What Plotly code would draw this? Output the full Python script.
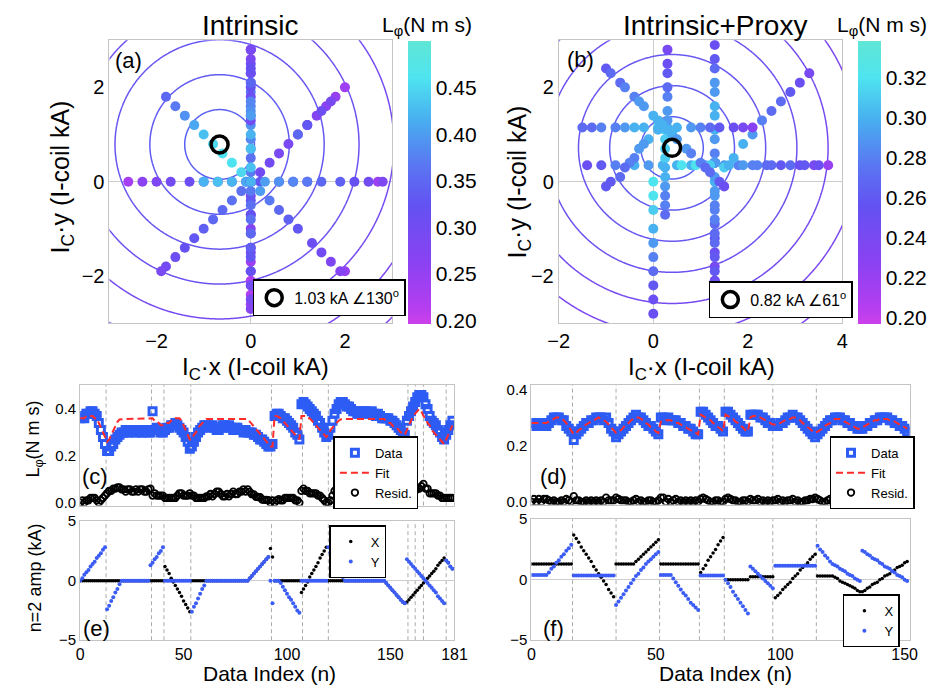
import numpy as np
import plotly.graph_objects as go

W, H = 947, 696
FONT = "Liberation Sans, Arial, Helvetica, sans-serif"

# ---------------- Intrinsic scan (181 points) ----------------
# n=2 I-coil amplitudes (kA), cosine (X) and sine (Y) components
coil_x_intr = [
    0, 0, 0, 0, 0, 0, 0, 0, 0, 0, 0, 0, 0,
    0, 0, 0, 0, 0, 0, 0, 0,
    0, 0, 0, 0, 0, 0, 0, 0, 0, 0, 0, 0, 0,
    0, 0, 0, 0, 0, 0, 0,
    1.2, 0.9, 0.6, 0.2, -0.1, -0.4, -0.7, -1.0, -1.3, -1.7, -2.0, -2.3, -2.6,
    0, 0, 0, 0, 0, 0, 0, 0,
    0, 0, 0, 0, 0, 0, 0, 0, 0, 0, 0, 0, 0, 0, 0, 0, 0, 0, 0, 0,
    0.2, 0.4, 0.6, 0.8, 1.0, 1.2, 1.4, 1.6, 1.8, 2.0,
    2.7, 2.0, 0, 0, 0,
    0, 0, 0, 0, 0, 0, 0, 0, 0, 0,
    -1.0, -0.7, -0.4, -0.1, 0.3, 0.6, 0.9, 1.2, 1.5, 1.9, 2.2, 2.5, 2.8,
    0, 0, 0, 0, 0, 0, 0, 0,
    0, 0, 0, 0, 0, 0, 0, 0, 0, 0, 0, 0, 0, 0, 0, 0, 0, 0, 0, 0,
    -0.2, -0.4, -0.6, -0.8, -1.0, -1.2, -1.4, -1.6, -1.8, -1.9,
    -1.8, -1.6, -1.4, -1.2, -1.0, -0.8, -0.6, -0.4, -0.2, 0.0, 0.2, 0.4, 0.6, 0.8, 1.0, 1.3, 1.5, 1.7, 1.9,
    1.7, 1.5, 1.2, 1.0,
]
coil_y_intr = [
    0.0, 0.2, 0.5, 0.7, 0.9, 1.2, 1.4, 1.6, 1.9, 2.1, 2.3, 2.6, 2.8,
    -2.4, -2.1, -1.7, -1.4, -1.0, -0.7, -0.3, 0.0,
    0, 0, 0, 0, 0, 0, 0, 0, 0, 0, 0, 0, 0,
    1.3, 1.5, 1.8, 2.0, 2.3, 2.5, 2.8,
    0, 0, 0, 0, 0, 0, 0, 0, 0, 0, 0, 0, 0,
    -2.6, -2.2, -1.9, -1.5, -1.1, -0.7, -0.4, 0.0,
    0, 0, 0, 0, 0, 0, 0, 0, 0, 0, 0, 0, 0, 0, 0, 0, 0, 0, 0, 0,
    0.2, 0.4, 0.6, 0.8, 1.0, 1.2, 1.4, 1.6, 1.8, 2.0,
    0.0, -1.9, 0, 0, 0,
    -0.2, -0.5, -0.8, -1.1, -1.4, -1.6, -1.9, -2.2, -2.5, -2.7,
    0, 0, 0, 0, 0, 0, 0, 0, 0, 0, 0, 0, 0,
    2.8, 2.4, 2.1, 1.7, 1.4, 1.0, 0.7, 0.3,
    0, 0, 0, 0, 0, 0, 0, 0, 0, 0, 0, 0, 0, 0, 0, 0, 0, 0, 0, 0,
    -0.2, -0.4, -0.6, -0.8, -1.0, -1.2, -1.4, -1.6, -1.8, -1.9,
    1.8, 1.6, 1.4, 1.2, 1.0, 0.8, 0.6, 0.4, 0.2, 0.0, -0.2, -0.4, -0.6, -0.8, -1.0, -1.3, -1.5, -1.7, -1.9,
    1.7, 1.5, 1.2, 1.0,
]
# measured locked-mode torque L_phi (N m s)
torque_intr = [
    0.36, 0.37, 0.36, 0.38, 0.38, 0.39, 0.39, 0.38, 0.37, 0.34, 0.31, 0.28, 0.25,
    0.22, 0.22, 0.24, 0.25, 0.27, 0.28, 0.29, 0.30,
    0.30, 0.31, 0.30, 0.30, 0.31, 0.31, 0.30, 0.31, 0.30, 0.30, 0.31, 0.31, 0.30,
    0.30, 0.39, 0.31, 0.32, 0.31, 0.30, 0.30,
    0.31, 0.32, 0.32, 0.33, 0.33, 0.34, 0.33, 0.32, 0.31, 0.30, 0.28, 0.26, 0.23,
    0.24, 0.26, 0.28, 0.30, 0.31, 0.32, 0.33, 0.33,
    0.33, 0.32, 0.33, 0.32, 0.31, 0.31, 0.32, 0.33, 0.33, 0.32, 0.33, 0.32, 0.31, 0.32, 0.32, 0.31, 0.31, 0.30, 0.31, 0.30,
    0.30, 0.30, 0.29, 0.29, 0.28, 0.27, 0.27, 0.26, 0.25, 0.24,
    0.24, 0.25, 0.37, 0.38, 0.38,
    0.37, 0.36, 0.36, 0.35, 0.34, 0.33, 0.32, 0.30, 0.29, 0.27,
    0.42, 0.43, 0.42, 0.41, 0.40, 0.39, 0.38, 0.37, 0.35, 0.34, 0.32, 0.30, 0.28,
    0.29, 0.32, 0.35, 0.38, 0.40, 0.42, 0.43, 0.43,
    0.42, 0.41, 0.41, 0.40, 0.39, 0.39, 0.38, 0.38, 0.39, 0.39, 0.39, 0.38, 0.38, 0.39, 0.38, 0.37, 0.38, 0.37, 0.36, 0.36,
    0.36, 0.36, 0.35, 0.35, 0.34, 0.33, 0.32, 0.31, 0.30, 0.29,
    0.35, 0.37, 0.39, 0.41, 0.43, 0.45, 0.46, 0.46, 0.45, 0.42, 0.40, 0.37, 0.35, 0.34, 0.33, 0.31, 0.30, 0.28, 0.27,
    0.29, 0.31, 0.33, 0.35,
]
fit_intr = [
    0.36, 0.36, 0.36, 0.37, 0.37, 0.37, 0.37, 0.36, 0.36, 0.34, 0.32, 0.30, 0.28,
    0.26, 0.27, 0.29, 0.31, 0.33, 0.345, 0.355, 0.357,
    0.357, 0.357, 0.357, 0.357, 0.357, 0.357, 0.357, 0.357, 0.357, 0.357, 0.357, 0.357, 0.357,
    0.36, 0.36, 0.35, 0.35, 0.34, 0.33, 0.33,
    0.33, 0.34, 0.34, 0.35, 0.35, 0.36, 0.36, 0.36, 0.35, 0.33, 0.31, 0.29, 0.27,
    0.27, 0.29, 0.30, 0.32, 0.33, 0.34, 0.35, 0.357,
    0.357, 0.357, 0.357, 0.357, 0.357, 0.357, 0.357, 0.357, 0.357, 0.357,
    0.357, 0.357, 0.357, 0.357, 0.357, 0.357, 0.357, 0.357, 0.357, 0.357,
    0.346, 0.336, 0.325, 0.315, 0.304, 0.293, 0.283, 0.272, 0.262, 0.251,
    0.24, 0.24, 0.37, 0.37, 0.365,
    0.36, 0.35, 0.34, 0.33, 0.32, 0.31, 0.30, 0.29, 0.28, 0.27,
    0.37, 0.37, 0.37, 0.36, 0.36, 0.35, 0.34, 0.33, 0.32, 0.31, 0.30, 0.29, 0.28,
    0.29, 0.31, 0.32, 0.33, 0.34, 0.35, 0.355, 0.357,
    0.357, 0.357, 0.357, 0.357, 0.357, 0.357, 0.357, 0.357, 0.357, 0.357,
    0.357, 0.357, 0.357, 0.357, 0.357, 0.357, 0.357, 0.357, 0.357, 0.357,
    0.35, 0.34, 0.34, 0.33, 0.32, 0.32, 0.31, 0.30, 0.30, 0.29,
    0.31, 0.33, 0.35, 0.37, 0.38, 0.39, 0.40, 0.39, 0.37, 0.36, 0.34, 0.33, 0.31, 0.30, 0.29, 0.28, 0.27, 0.26, 0.25,
    0.27, 0.29, 0.31, 0.33,
]
breaks_intr = [12.5, 34.5, 40.5, 53.5, 92.5, 107.5, 120, 158.5, 162, 166, 177]

# ---------------- Intrinsic+Proxy scan (152 points) ----------------
coil_x_prox = [
    1.3, 1.3, 1.3, 1.3, 1.3, 1.3, 1.3, 1.3, 1.3, 1.3, 1.3, 1.3, 1.3, 1.3, 1.3, 1.3, 1.3,
    3.7, 3.4, 3.1, 2.7, 2.4, 2.1, 1.8, 1.5, 1.1, 0.8, 0.5, 0.2, -0.1, -0.4, -0.8, -1.1, -1.4,
    1.3, 1.3, 1.3, 1.3, 1.3, 1.3, 1.3, 1.3,
    1.5, 1.7, 1.9, 2.1, 2.3, 2.5, 2.7, 2.9, 3.1, 3.3,
    1.3, 1.3, 1.3, 1.3, 1.3, 1.3, 1.3, 1.3, 1.3, 1.3, 1.3, 1.3, 1.3, 1.3, 1.3, 1.3,
    0.6, 0.9, 1.2, 1.6, 1.9, 2.2, 2.5, 2.9, 3.2, 3.5,
    0.0, 0.0, 0.0, 0.0, 0.0, 0.0, 0.0, 0.0, 0.0, 0.0,
    0.25, 0.25, 0.25, 0.25, 0.25, 0.25, 0.25, 0.25, 0.25, 0.25,
    -1.5, -1.3, -1.1, -0.8, -0.6, -0.4, -0.2, 0.1, 0.3, 0.5, 0.8, 1.0, 1.2, 1.4, 1.7, 1.9, 2.1,
    0.3, 0.3, 0.3, 0.3, 0.3, 0.3, 0.3,
    0.2, 0.1, -0.1, -0.2, -0.3, -0.4, -0.5, -0.6, -0.7, -0.9, -1.0,
    -1.0, -0.9, -0.7, -0.6, -0.4, -0.3, -0.2, 0.0, 0.1, 0.3, 0.4, 0.5, 0.7, 0.8, 1.0, 1.1, 1.2, 1.4, 1.5,
]
coil_y_prox = [
    0.4, 0.4, 0.4, 0.4, 0.4, 0.4, 0.4, 0.6, 0.9, 1.1, 1.4, 1.6, 1.9, 2.1, 2.4, 2.6, 2.9,
    0.35, 0.35, 0.35, 0.35, 0.35, 0.35, 0.35, 0.35, 0.35, 0.35, 0.35, 0.35, 0.35, 0.35, 0.35, 0.35, 0.35,
    -2.1, -1.8, -1.5, -1.2, -0.9, -0.6, -0.3, 0.0,
    0.3, 0.5, 0.8, 1.0, 1.3, 1.5, 1.7, 1.9, 2.1, 2.3,
    0.4, 0.4, 0.4, 0.4, 0.4, 0.1, -0.2, -0.5, -0.8, -1.1, -1.3, -1.6, -1.9, -2.1, -2.3, -2.5,
    0.35, 0.35, 0.35, 0.35, 0.35, 0.35, 0.35, 0.35, 0.35, 0.35,
    0.0, -0.3, -0.6, -1.0, -1.3, -1.6, -1.9, -2.2, -2.5, -2.8,
    1.1, 0.9, 0.7, 0.5, 0.3, 0.1, -0.1, -0.3, -0.5, -0.7,
    1.15, 1.15, 1.15, 1.15, 1.15, 1.15, 1.15, 1.15, 1.15, 1.15, 1.15, 1.15, 1.15, 1.15, 1.15, 1.15, 1.15,
    2.8, 2.5, 2.3, 2.0, 1.8, 1.5, 1.3,
    1.2, 1.1, 0.9, 0.8, 0.7, 0.5, 0.4, 0.3, 0.1, 0.0, -0.1,
    2.4, 2.3, 2.1, 2.0, 1.8, 1.7, 1.6, 1.4, 1.3, 1.1, 1.0, 0.9, 0.7, 0.6, 0.4, 0.3, 0.2, 0.0, -0.1,
]
torque_prox = [
    0.28, 0.27, 0.28, 0.27, 0.28, 0.27, 0.27, 0.28, 0.29, 0.30, 0.30, 0.30, 0.29, 0.29, 0.27, 0.26, 0.25,
    0.22, 0.24, 0.25, 0.26, 0.27, 0.28, 0.28, 0.29, 0.29, 0.30, 0.30, 0.30, 0.29, 0.30, 0.28, 0.26, 0.25,
    0.23, 0.24, 0.25, 0.26, 0.27, 0.28, 0.29, 0.30,
    0.31, 0.30, 0.30, 0.29, 0.28, 0.27, 0.27, 0.26, 0.25, 0.24,
    0.30, 0.30, 0.29, 0.30, 0.29, 0.29, 0.29, 0.28, 0.28, 0.27, 0.27, 0.26, 0.26, 0.25, 0.24, 0.24,
    0.32, 0.32, 0.31, 0.30, 0.29, 0.28, 0.27, 0.27, 0.26, 0.25,
    0.32, 0.32, 0.31, 0.30, 0.29, 0.28, 0.27, 0.26, 0.25, 0.25,
    0.31, 0.31, 0.31, 0.31, 0.30, 0.30, 0.29, 0.28, 0.28, 0.27,
    0.27, 0.27, 0.28, 0.28, 0.29, 0.30, 0.30, 0.31, 0.30, 0.30, 0.29, 0.28, 0.27, 0.26, 0.25, 0.24, 0.23,
    0.24, 0.25, 0.26, 0.27, 0.28, 0.29, 0.29,
    0.30, 0.30, 0.30, 0.29, 0.29, 0.28, 0.28, 0.27, 0.27, 0.26, 0.26,
    0.26, 0.27, 0.27, 0.28, 0.28, 0.29, 0.29, 0.30, 0.30, 0.30, 0.30, 0.29, 0.29, 0.28, 0.28, 0.27, 0.27, 0.26, 0.25,
]
fit_prox = [
    0.28, 0.28, 0.28, 0.28, 0.28, 0.28, 0.28, 0.285, 0.29, 0.295, 0.30, 0.30, 0.295, 0.29, 0.28, 0.265, 0.25,
    0.24, 0.245, 0.255, 0.26, 0.27, 0.275, 0.28, 0.285, 0.29, 0.295, 0.30, 0.295, 0.29, 0.285, 0.275, 0.265, 0.255,
    0.245, 0.25, 0.255, 0.265, 0.275, 0.28, 0.29, 0.295,
    0.30, 0.30, 0.295, 0.29, 0.28, 0.275, 0.265, 0.26, 0.25, 0.245,
    0.285, 0.285, 0.29, 0.29, 0.29, 0.285, 0.28, 0.28, 0.275, 0.27, 0.265, 0.26, 0.255, 0.25, 0.245, 0.24,
    0.31, 0.305, 0.30, 0.295, 0.29, 0.28, 0.275, 0.265, 0.26, 0.25,
    0.31, 0.305, 0.30, 0.295, 0.285, 0.28, 0.27, 0.265, 0.255, 0.25,
    0.30, 0.305, 0.305, 0.30, 0.30, 0.295, 0.29, 0.285, 0.28, 0.275,
    0.275, 0.28, 0.28, 0.285, 0.29, 0.295, 0.295, 0.30, 0.30, 0.295, 0.29, 0.28, 0.275, 0.265, 0.26, 0.25, 0.245,
    0.25, 0.255, 0.26, 0.27, 0.275, 0.28, 0.29,
    0.295, 0.295, 0.295, 0.29, 0.285, 0.28, 0.275, 0.27, 0.265, 0.26, 0.26,
    0.265, 0.27, 0.275, 0.28, 0.285, 0.29, 0.29, 0.295, 0.295, 0.295, 0.295, 0.29, 0.29, 0.285, 0.28, 0.275, 0.27, 0.265, 0.26,
]
breaks_prox = [16.5, 34, 51.5, 67.5, 77.5, 97, 114.5]

# best-fit optimum: (amplitude kA, phase deg) and ring spacing of the fitted cone
opt_intr = (1.03, 130)
opt_prox = (0.82, 61)
ring_step_intr = 0.74
ring_step_prox = 0.66
cbar_ticks_intr = [0.20, 0.25, 0.30, 0.35, 0.40, 0.45]
cbar_ticks_prox = [0.20, 0.22, 0.24, 0.26, 0.28, 0.30, 0.32]

# ---------------- helpers ----------------
def fx(p):
    return p / W


def fy(p):
    return 1 - p / H


CS = [[0.0, '#cc40ea'], [0.06, '#b43ef0'], [0.22, '#8a42f2'], [0.42, '#6352f2'],
      [0.56, '#5a76f2'], [0.72, '#48aef0'], [0.87, '#4ee4f0'], [1.0, '#5fe6d4']]
RING_CS = [[0, '#5a60f2'], [1, '#8a3cf0']]
BLUE = '#2d5cf5'
RED = '#ff2a2a'

fig = go.Figure()


def polar_xy(opt):
    a = np.radians(opt[1])
    return opt[0] * np.cos(a), opt[0] * np.sin(a)


def rings(opt, step, xr, yr, xa, ya):
    cx, cy = polar_xy(opt)
    gx = np.linspace(xr[0] - 0.3, xr[1] + 0.3, 321)
    gy = np.linspace(yr[0] - 0.3, yr[1] + 0.3, 321)
    z = np.hypot(gx[None, :] - cx, gy[:, None] - cy)
    return go.Contour(x=gx, y=gy, z=z, autocontour=False,
                      contours=dict(start=step, end=step * 10, size=step, coloring='lines'),
                      line=dict(width=1.5), colorscale=RING_CS, zmin=0, zmax=step * 8,
                      showscale=False, hoverinfo='skip', xaxis=xa, yaxis=ya)


def cbar(ticks, x):
    return dict(x=fx(x), xanchor='left', y=fy(323), yanchor='bottom', len=290 / H,
                lenmode='fraction', thickness=23, thicknessmode='pixels', xpad=0, ypad=0,
                outlinewidth=0, ticks='', tickvals=ticks, ticktext=['%.2f' % t for t in ticks],
                tickfont=dict(size=21, family=FONT, color='black'))


def top_panel(cx_list, cy_list, vals, opt, step, xr, cmin, cmax, ticks, cbx, xa, ya, leg, optname):
    fig.add_trace(rings(opt, step, xr, (-3, 3), xa, ya))
    fig.add_trace(go.Scatter(x=cx_list, y=cy_list, mode='markers', xaxis=xa, yaxis=ya,
                             marker=dict(size=10, color=vals, colorscale=CS, cmin=cmin, cmax=cmax,
                                         colorbar=cbar(ticks, cbx)),
                             showlegend=False, hoverinfo='skip'))
    ox, oy = polar_xy(opt)
    fig.add_trace(go.Scatter(x=[ox], y=[oy], mode='markers', xaxis=xa, yaxis=ya, name=optname,
                             legend=leg,
                             marker=dict(symbol='circle-open', size=17, color='black',
                                         line=dict(width=3.5, color='black'))))


top_panel(coil_x_intr, coil_y_intr, torque_intr, opt_intr, ring_step_intr, (-3, 3),
          0.196, 0.5, cbar_ticks_intr, 407, 'x', 'y', 'legend',
          '1.03 kA \u2220130<sup>o</sup>')
top_panel(coil_x_prox, coil_y_prox, torque_prox, opt_prox, ring_step_prox, (-2, 4),
          0.1966, 0.338, cbar_ticks_prox, 869, 'x2', 'y2', 'legend2',
          '0.82 kA \u222061<sup>o</sup>')


def torque_panel(vals, fit, xa, ya, leg):
    n = np.arange(len(vals))
    resid = np.abs(np.array(vals) - np.array(fit))
    fig.add_trace(go.Scatter(x=n, y=vals, mode='markers', name='Data', xaxis=xa, yaxis=ya, legend=leg,
                             marker=dict(symbol='square-open', size=7, color=BLUE,
                                         line=dict(width=3, color=BLUE))))
    fig.add_trace(go.Scatter(x=n, y=fit, mode='lines', name='Fit', xaxis=xa, yaxis=ya, legend=leg,
                             line=dict(color=RED, width=2, dash='7px,4px')))
    fig.add_trace(go.Scatter(x=n, y=resid, mode='markers', name='Resid.', xaxis=xa, yaxis=ya,
                             legend=leg,
                             marker=dict(symbol='circle-open', size=6.5, color='black',
                                         line=dict(width=1.8, color='black'))))


def coil_panel(cx_list, cy_list, xa, ya, leg):
    n = np.arange(len(cx_list))
    fig.add_trace(go.Scatter(x=n, y=cx_list, mode='markers', name='X', xaxis=xa, yaxis=ya, legend=leg,
                             marker=dict(size=3.5, color='black')))
    fig.add_trace(go.Scatter(x=n, y=cy_list, mode='markers', name='Y', xaxis=xa, yaxis=ya, legend=leg,
                             marker=dict(size=4, color='#3b5cf5')))


torque_panel(torque_intr, fit_intr, 'x3', 'y3', 'legend3')
torque_panel(torque_prox, fit_prox, 'x4', 'y4', 'legend4')
coil_panel(coil_x_intr, coil_y_intr, 'x5', 'y5', 'legend5')
coil_panel(coil_x_prox, coil_y_prox, 'x6', 'y6', 'legend6')

# ---------------- axes ----------------
def ax(domain, rng, anchor, size, **kw):
    d = dict(domain=domain, range=rng, anchor=anchor, showline=True, mirror=True,
             linecolor='#c4c4c4', linewidth=1, showgrid=False, zeroline=False, ticks='',
             tickfont=dict(size=size, family=FONT, color='black'))
    d.update(kw)
    return d


zl = dict(zeroline=True, zerolinecolor='#cdcdcd', zerolinewidth=1)
top_dom_y = [fy(322), fy(32)]
left_dom_x = [fx(71), fx(455)]
right_dom_x = [fx(534), fx(922)]

layout_axes = dict(
    xaxis=ax([fx(101), fx(391)], [-3, 3], 'y', 20, tickvals=[-2, 0, 2], **zl),
    yaxis=ax(top_dom_y, [-3, 3], 'x', 20, tickvals=[-2, 0, 2], **zl),
    xaxis2=ax([fx(562), fx(853)], [-2, 4], 'y2', 20, tickvals=[-2, 0, 2, 4], **zl),
    yaxis2=ax(top_dom_y, [-3, 3], 'x2', 20, tickvals=[-2, 0, 2], **zl),
    xaxis3=ax(left_dom_x, [0, 181], 'y3', 16, showticklabels=False),
    yaxis3=ax([fy(509), fy(385)], [-0.0125, 0.504], 'x3', 15, tickvals=[0, 0.2, 0.4],
              tickformat='.1f'),
    xaxis4=ax(right_dom_x, [0, 152], 'y4', 16, showticklabels=False),
    yaxis4=ax([fy(508), fy(385)], [-0.01, 0.417], 'x4', 15, tickvals=[0, 0.2, 0.4],
              tickformat='.1f'),
    xaxis5=ax(left_dom_x, [0, 181], 'y5', 16, tickvals=[0, 50, 100, 150, 181]),
    yaxis5=ax([fy(647), fy(525)], [-5, 5], 'x5', 15, tickvals=[-5, 0, 5], **zl),
    xaxis6=ax(right_dom_x, [0, 152], 'y6', 16, tickvals=[0, 50, 100, 150]),
    yaxis6=ax([fy(647), fy(523)], [-5, 5], 'x6', 15, tickvals=[-5, 0, 5], **zl),
)

# ---------------- legends ----------------
def leg(x, y, xanchor, size):
    return dict(x=fx(x), y=fy(y), xanchor=xanchor, yanchor='top', bgcolor='white',
                bordercolor='black', borderwidth=1.5, tracegroupgap=0,
                font=dict(size=size, family=FONT, color='black'))


legends = dict(
    legend=leg(248, 277, 'left', 16),
    legend2=leg(716, 279, 'left', 16),
    legend3=leg(418, 438, 'right', 13),
    legend4=leg(927, 438, 'right', 13),
    legend5=leg(385, 529, 'right', 13),
    legend6=leg(912, 600, 'right', 13),
)

# ---------------- dashed scan-segment markers ----------------
shapes = []
for b in breaks_intr:
    for xa, ya in (('x3', 'y3'), ('x5', 'y5')):
        shapes.append(dict(type='line', xref=xa, yref=ya + ' domain', x0=b, x1=b, y0=0, y1=1,
                           layer='below', line=dict(color='#ababab', width=1, dash='4px,3px')))
for b in breaks_prox:
    for xa, ya in (('x4', 'y4'), ('x6', 'y6')):
        shapes.append(dict(type='line', xref=xa, yref=ya + ' domain', x0=b, x1=b, y0=0, y1=1,
                           layer='below', line=dict(color='#ababab', width=1, dash='4px,3px')))

# ---------------- text ----------------
annotations = []


def label(text, x, y, size, angle=0):
    annotations.append(dict(text=text, x=fx(x), y=fy(y), xref='paper', yref='paper',
                            showarrow=False, textangle=angle, xanchor='center', yanchor='middle',
                            font=dict(size=size, family=FONT, color='black')))


label('Intrinsic', 245, 17, 28)
label('Intrinsic+Proxy', 722, 17, 28)
label('L<sub>\u03c6</sub>(N m s)', 427, 17, 21)
label('L<sub>\u03c6</sub>(N m s)', 894, 17, 21)
label('(a)', 121, 53, 22)
label('(b)', 584, 52, 22)
label('(c)', 86, 479, 22)
label('(d)', 557, 479, 22)
label('(e)', 88, 635, 22)
label('(f)', 557, 635, 22)
label('I<sub>C</sub>\u00b7y (I-coil kA)', 52, 172, 25, -90)
label('I<sub>C</sub>\u00b7x (I-coil kA)', 251, 368, 24)
label('I<sub>C</sub>\u00b7y (I-coil kA)', 521, 177, 25, -90)
label('I<sub>C</sub>\u00b7x (I-coil kA)', 708, 368, 24)
label('L<sub>\u03c6</sub>(N m s)', 24, 441, 18, -90)
label('n=2 amp (kA)', 24, 583, 18, -90)
label('Data Index (n)', 265, 681, 21)
label('Data Index (n)', 733, 681, 21)

fig.update_layout(
    width=W, height=H, margin=dict(l=0, r=0, t=0, b=0),
    paper_bgcolor='white', plot_bgcolor='white',
    font=dict(family=FONT, color='black'),
    annotations=annotations, shapes=shapes,
    **layout_axes, **legends,
)

fig.write_html("out.html")
